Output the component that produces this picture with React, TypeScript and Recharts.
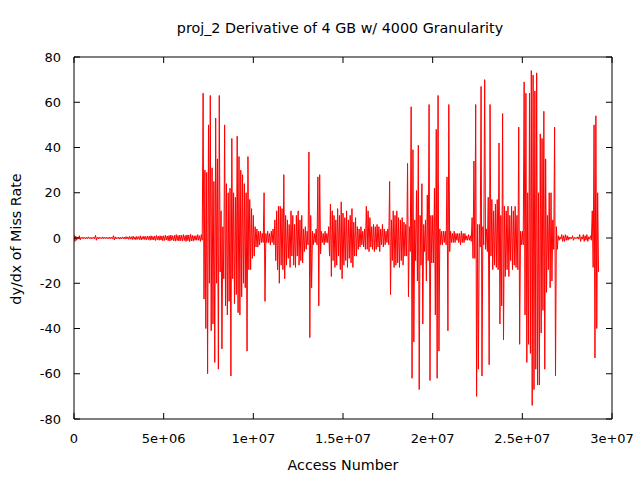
import { LineChart, Line, XAxis, YAxis } from 'recharts';

// one sampled column every 100k accesses; each column keeps its high and low spike
const STEP = 100000;

const PEAK_HIGH = [
  1.5, 0.8, 0.3, 1, 0.3, 0.4, 0.3, 0.3, 0.5, 0.3,
  0.3, 0.4, 1.2, 0.3, 0.4, 0.3, 0.5, 0.3, 0.4, 0.3,
  0.4, 0.3, 1, 0.5, 0.3, 0.4, 0.3, 0.5, 0.4, 0.6,
  0.5, 0.7, 0.6, 0.8, 0.5, 0.7, 0.6, 1, 0.6, 0.8,
  0.7, 0.9, 0.8, 1, 0.7, 0.9, 1.1, 0.8, 1, 0.9,
  1, 1.2, 0.9, 1.1, 1.3, 1, 1.2, 1.5, 1.1, 1.3,
  1.2, 1.5, 1.1, 1.4, 1.3, 1.6, 1.2, 1, 1, 1.5,
  1, 1.5, 64, 30, 29, 50, 63, 31, 25, 53,
  35, 63, 12, 5, 50, 24, 20, 22, 44, 20,
  18, 45, 36, 30, 28, 24, 20, 36, 17, 13,
  10, 5, 4, 3, 3, 2, 20, 2, 3, 2,
  3, 4, 8, 12, 14, 14, 13, 28, 10, 8,
  6, 12, 10, 6, 10, 12, 8, 10, 4, 5,
  3, 38, 10, 3, 2, 4, 27, 28, 3, 2,
  3, 2, 5, 15, 12, 10, 8, 13, 10, 16,
  11, 9, 12, 8, 10, 13, 7, 9, 5, 4,
  5, 3, 4, 14, 12, 9, 5, 6, 5, 6,
  5, 4, 6, 4, 3, 4, 25, 8, 12, 10,
  12, 9, 8, 9, 7, 6, 33, 5, 58, 39,
  8, 21, 41, 10, 24, 6, 8, 19, 59, 10,
  10, 22, 48, 63, 4, 3, 3, 3, 27, 59,
  3, 2, 3, 2, 2, 2, 3, 2, 2, 1,
  1.5, 1, 9, 34, 59, 6, 6, 67, 5, 70,
  4, 18, 59, 17, 12, 15, 17, 42, 10, 55,
  14, 12, 14, 10, 14, 12, 14, 10, 49, 3,
  3, 69, 64, 20, 64, 74, 72, 65, 73, 20,
  46, 44, 56, 35, 10, 20, 20, 8, 49, 5,
  1, 0.5, 1.5, 1, 1.5, 1, 0.5, 0.3, 1, 0.3,
  0.3, 0.5, 1.5, 0.5, 1.5, 1, 1.5, 0.5, 1, 12,
  50, 54, 20,
];

const PEAK_LOW = [
  -1.5, -1, -0.3, -0.8, -0.3, -0.3, -0.4, -0.3, -0.3, -0.4,
  -0.3, -0.3, -1, -0.4, -0.3, -0.3, -0.4, -0.3, -0.3, -0.4,
  -0.3, -0.4, -0.9, -0.4, -0.3, -0.5, -0.4, -0.3, -0.5, -0.4,
  -0.6, -0.5, -0.7, -0.6, -0.8, -0.6, -0.7, -0.9, -0.6, -0.7,
  -0.8, -0.7, -1, -0.8, -0.9, -1.1, -0.8, -1, -0.9, -1.2,
  -1.1, -0.9, -1.2, -1.3, -1, -1.2, -1.4, -1.1, -1.3, -1.2,
  -1.3, -1.1, -1.5, -1.2, -1.6, -1.3, -1.4, -1, -1, -1,
  -1.5, -1, -27, -40, -60, -20, -41, -38, -55, -20,
  -58, -15, -49, -18, -30, -34, -28, -61, -18, -29,
  -25, -33, -34, -26, -20, -22, -50, -14, -14, -9,
  -8, -4, -4, -3, -2, -2, -28, -2, -2, -3,
  -2, -3, -10, -14, -20, -12, -14, -18, -12, -9,
  -13, -8, -12, -13, -8, -12, -10, -11, -6, -5,
  -3, -44, -22, -3, -2, -3, -30, -7, -2, -3,
  -2, -2, -8, -17, -10, -13, -12, -8, -14, -18,
  -12, -10, -13, -9, -11, -13, -8, -8, -5, -4,
  -3, -4, -5, -5, -6, -4, -5, -6, -5, -4,
  -6, -3, -4, -3, -2, -3, -25, -10, -13, -12,
  -11, -13, -10, -12, -8, -8, -26, -6, -62, -46,
  -10, -19, -67, -12, -38, -6, -19, -10, -63, -11,
  -11, -34, -62, -50, -3, -3, -2, -3, -41, -6,
  -2, -2, -2, -1, -2, -3, -2, -2, -1, -1,
  -1, -1.5, -9, -9, -70, -58, -4, -61, -3, -5,
  -6, -56, -8, -14, -12, -13, -14, -38, -30, -45,
  -17, -14, -17, -10, -14, -12, -13, -14, -47, -3,
  -3, -34, -55, -47, -51, -74, -67, -58, -65, -65,
  -42, -32, -58, -24, -14, -22, -19, -5, -61, -5,
  -1, -0.5, -1.5, -1.5, -1, -1, -0.5, -0.3, -1, -0.3,
  -0.3, -0.5, -1.5, -0.5, -1.5, -1, -1.5, -0.5, -1, -13,
  -53, -40, -15,
];

const X_TICKS = [0, 5e6, 1e7, 1.5e7, 2e7, 2.5e7, 3e7];
const X_TICK_LABELS = ['0', '5e+06', '1e+07', '1.5e+07', '2e+07', '2.5e+07', '3e+07'];
const Y_TICKS = [-80, -60, -40, -20, 0, 20, 40, 60, 80];

const data = PEAK_HIGH.flatMap((hi, i) => [
  { access: i * STEP, rate: hi },
  { access: i * STEP + STEP / 2, rate: PEAK_LOW[i] },
]);

const FONT = '"DejaVu Sans", sans-serif';
const tickStyle = { fill: '#000', fontSize: 13, fontFamily: FONT };
const labelText = { lineHeight: '16px', fontSize: 14.3, textAlign: 'center' as const, color: '#000' };
const blank = () => '';

export default function App() {
  return (
    <div style={{ position: 'absolute', left: 0, top: 0, width: 640, height: 480, background: '#fff', fontFamily: FONT }}>
      <div style={{ ...labelText, position: 'absolute', left: 0, width: 680, top: 20 }}>
        proj_2 Derivative of 4 GB w/ 4000 Granularity
      </div>
      <div style={{ ...labelText, position: 'absolute', left: 74, width: 538, top: 457 }}>
        Access Number
      </div>
      <div style={{ ...labelText, position: 'absolute', left: 16 - 100, top: 239 - 8, width: 200, transform: 'rotate(-90deg)' }}>
        dy/dx of Miss Rate
      </div>
      <LineChart width={640} height={480} data={data} margin={{ top: 47, right: 18, bottom: 31, left: 14 }}>
        <XAxis
          xAxisId="bottom" dataKey="access" type="number" domain={[0, 3e7]} ticks={X_TICKS} interval={0}
          tickFormatter={(v: number) => X_TICK_LABELS[X_TICKS.indexOf(v)] ?? String(v)}
          tickSize={-6} tickMargin={21} height={30} stroke="#000" tick={tickStyle} allowDataOverflow
        />
        <XAxis
          xAxisId="top" orientation="top" dataKey="access" type="number" domain={[0, 3e7]} ticks={X_TICKS}
          interval={0} tickFormatter={blank} tickSize={-6} height={10} stroke="#000" allowDataOverflow
        />
        <YAxis
          yAxisId="left" type="number" domain={[-80, 80]} ticks={Y_TICKS} interval={0} width={60}
          tickSize={-6} tickMargin={19} stroke="#000" tick={tickStyle} allowDataOverflow
        />
        <YAxis
          yAxisId="right" orientation="right" type="number" domain={[-80, 80]} ticks={Y_TICKS} interval={0}
          width={10} tickFormatter={blank} tickSize={-6} stroke="#000" allowDataOverflow
        />
        <Line
          xAxisId="bottom" yAxisId="left" type="linear" dataKey="rate" stroke="#ff0000" strokeWidth={1}
          dot={false} isAnimationActive={false}
        />
      </LineChart>
    </div>
  );
}
